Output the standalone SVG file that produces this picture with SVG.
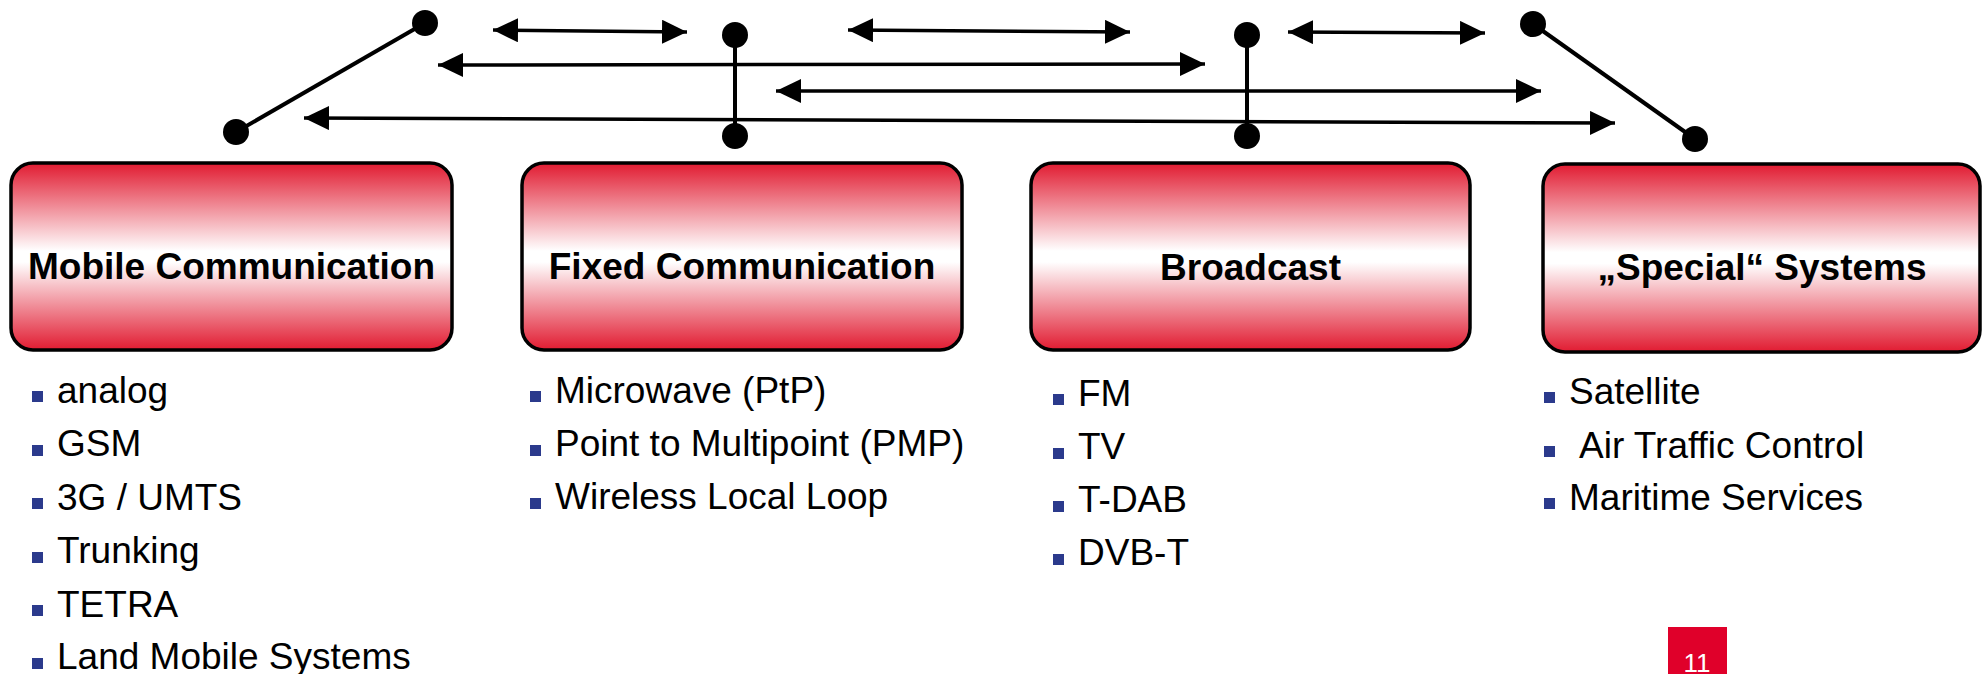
<svg xmlns="http://www.w3.org/2000/svg" width="1982" height="674" viewBox="0 0 1982 674">
  <defs>
    <linearGradient id="boxFill" x1="0" y1="0" x2="0" y2="1">
      <stop offset="0" stop-color="#e11b31"/>
      <stop offset="0.47" stop-color="#ffffff"/>
      <stop offset="0.53" stop-color="#ffffff"/>
      <stop offset="1" stop-color="#e11b31"/>
    </linearGradient>
    <marker id="head" viewBox="0 0 25 24" refX="25" refY="12" markerWidth="25" markerHeight="24" markerUnits="userSpaceOnUse" orient="auto-start-reverse">
      <path d="M0,0 L25,12 L0,24 Z" fill="#000"/>
    </marker>
  </defs>
  <style>
    .box { fill: url(#boxFill); stroke: #000; stroke-width: 3.5; }
    .title { font-family: "Liberation Sans", Arial, sans-serif; font-weight: bold; font-size: 37px; fill: #000; text-anchor: middle; }
    .item { font-family: "Liberation Sans", Arial, sans-serif; font-size: 37px; fill: #000; }
    .bullet { fill: #2b3a8c; }
    .arrow { stroke: #000; stroke-width: 3.5; fill: none; marker-start: url(#head); marker-end: url(#head); }
    .link { stroke: #000; stroke-width: 4; fill: none; }
    .dot { fill: #000; }
    .pg { fill: #e0002a; }
    .pgnum { font-family: "Liberation Sans", Arial, sans-serif; font-size: 26px; fill: #fff; text-anchor: middle; }
  </style>

  <rect width="1982" height="674" fill="#fff"/>

  <!-- connectors: links between system pairs and the relation arrows -->
  <g id="connectors">
    <line class="link" x1="425" y1="23" x2="236" y2="132"/>
    <circle class="dot" cx="425" cy="23" r="13"/>
    <circle class="dot" cx="236" cy="132" r="13"/>

    <line class="link" x1="735" y1="35" x2="735" y2="136"/>
    <circle class="dot" cx="735" cy="35" r="13"/>
    <circle class="dot" cx="735" cy="136" r="13"/>

    <line class="link" x1="1247" y1="35" x2="1247" y2="136"/>
    <circle class="dot" cx="1247" cy="35" r="13"/>
    <circle class="dot" cx="1247" cy="136" r="13"/>

    <line class="link" x1="1533" y1="24" x2="1695" y2="139"/>
    <circle class="dot" cx="1533" cy="24" r="13"/>
    <circle class="dot" cx="1695" cy="139" r="13"/>

    <line class="arrow" x1="493" y1="30" x2="687" y2="32"/>
    <line class="arrow" x1="848" y1="30" x2="1130" y2="32"/>
    <line class="arrow" x1="1288" y1="32" x2="1485" y2="33"/>
    <line class="arrow" x1="438" y1="65" x2="1205" y2="64"/>
    <line class="arrow" x1="776" y1="91" x2="1541" y2="91"/>
    <line class="arrow" x1="304" y1="118" x2="1615" y2="123"/>
  </g>

  <!-- Mobile Communication -->
  <g id="mobile">
    <rect class="box" x="11" y="163" width="441" height="187" rx="22"/>
    <text class="title" x="231.5" y="279">Mobile Communication</text>
    <rect class="bullet" x="32" y="391" width="11" height="11"/>
    <text class="item" x="57" y="403">analog</text>
    <rect class="bullet" x="32" y="445" width="11" height="11"/>
    <text class="item" x="57" y="456">GSM</text>
    <rect class="bullet" x="32" y="498" width="11" height="11"/>
    <text class="item" x="57" y="510">3G / UMTS</text>
    <rect class="bullet" x="32" y="552" width="11" height="11"/>
    <text class="item" x="57" y="563">Trunking</text>
    <rect class="bullet" x="32" y="605" width="11" height="11"/>
    <text class="item" x="57" y="617">TETRA</text>
    <rect class="bullet" x="32" y="658" width="11" height="11"/>
    <text class="item" x="57" y="669">Land Mobile Systems</text>
  </g>

  <!-- Fixed Communication -->
  <g id="fixed">
    <rect class="box" x="522" y="163" width="440" height="187" rx="22"/>
    <text class="title" x="742" y="279">Fixed Communication</text>
    <rect class="bullet" x="530" y="391" width="11" height="11"/>
    <text class="item" x="555" y="403">Microwave (PtP)</text>
    <rect class="bullet" x="530" y="445" width="11" height="11"/>
    <text class="item" x="555" y="456">Point to Multipoint (PMP)</text>
    <rect class="bullet" x="530" y="498" width="11" height="11"/>
    <text class="item" x="555" y="509">Wireless Local Loop</text>
  </g>

  <!-- Broadcast -->
  <g id="broadcast">
    <rect class="box" x="1031" y="163" width="439" height="187" rx="22"/>
    <text class="title" x="1250.5" y="280">Broadcast</text>
    <rect class="bullet" x="1053" y="394" width="11" height="11"/>
    <text class="item" x="1078" y="406">FM</text>
    <rect class="bullet" x="1053" y="448" width="11" height="11"/>
    <text class="item" x="1078" y="459">TV</text>
    <rect class="bullet" x="1053" y="501" width="11" height="11"/>
    <text class="item" x="1078" y="512">T-DAB</text>
    <rect class="bullet" x="1053" y="554" width="11" height="11"/>
    <text class="item" x="1078" y="565">DVB-T</text>
  </g>

  <!-- "Special" Systems -->
  <g id="special">
    <rect class="box" x="1543" y="164" width="437" height="188" rx="22"/>
    <text class="title" x="1762" y="280">„Special“ Systems</text>
    <rect class="bullet" x="1544" y="392" width="11" height="11"/>
    <text class="item" x="1569" y="404">Satellite</text>
    <rect class="bullet" x="1544" y="446" width="11" height="11"/>
    <text class="item" x="1579" y="458">Air Traffic Control</text>
    <rect class="bullet" x="1544" y="498" width="11" height="11"/>
    <text class="item" x="1569" y="510">Maritime Services</text>
  </g>

  <!-- page number -->
  <g id="page-number">
    <rect class="pg" x="1668" y="627" width="59" height="47"/>
    <text class="pgnum" x="1697" y="672">11</text>
  </g>
</svg>
